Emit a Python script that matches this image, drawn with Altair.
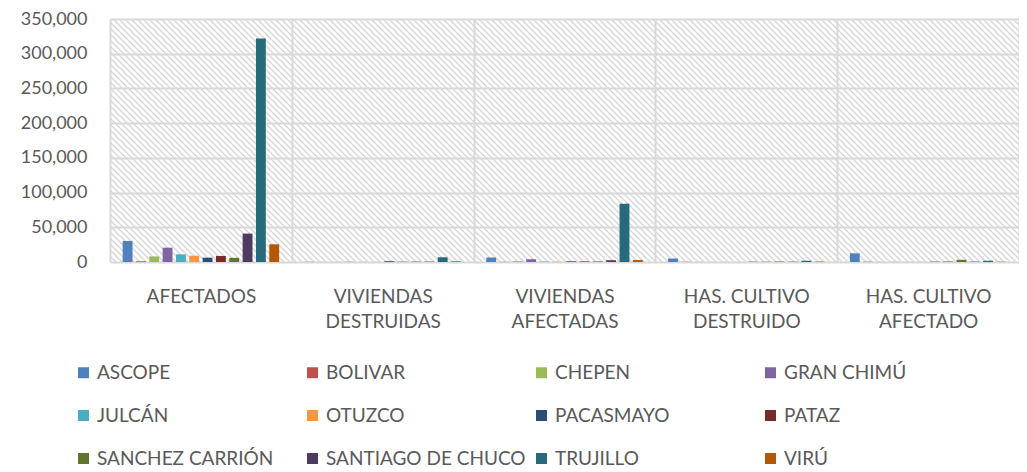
import altair as alt
import pandas as pd

provinces = ["ASCOPE", "BOLIVAR", "CHEPEN", "GRAN CHIMÚ", "JULCÁN", "OTUZCO",
             "PACASMAYO", "PATAZ", "SANCHEZ CARRIÓN", "SANTIAGO DE CHUCO",
             "TRUJILLO", "VIRÚ"]
colors = ["#4F81BD", "#C0504D", "#9BBB59", "#8064A2", "#4BACC6", "#F79646",
          "#2C4D75", "#772C2A", "#5F7530", "#4D3B62", "#276A7C", "#B65708"]

categories = ["AFECTADOS", "VIVIENDAS DESTRUIDAS", "VIVIENDAS AFECTADAS",
              "HAS. CULTIVO DESTRUIDO", "HAS. CULTIVO AFECTADO"]

afectados = [30300, 1000, 8000, 20600, 11000, 9100, 6200, 8700, 6000, 40900, 322000, 25500]
viviendas_destruidas = [300, 100, 200, 300, 200, 200, 1200, 400, 600, 500, 6800, 1000]
viviendas_afectadas = [6500, 300, 1200, 4000, 600, 500, 1000, 800, 800, 2600, 84000, 2800]
has_cultivo_destruido = [5000, 300, 200, 100, 100, 200, 400, 300, 700, 400, 1800, 600]
has_cultivo_afectado = [12500, 400, 300, 200, 200, 300, 500, 600, 3200, 500, 1800, 400]

y_ticks = [0, 50000, 100000, 150000, 200000, 250000, 300000, 350000]

series = [afectados, viviendas_destruidas, viviendas_afectadas,
          has_cultivo_destruido, has_cultivo_afectado]
rows = []
for cat, vals in zip(categories, series):
    for p, v in zip(provinces, vals):
        rows.append({"categoria": cat, "provincia": p, "valor": v})
df = pd.DataFrame(rows)

W, H = 909, 243
TEXT = "#595959"
GRID = "#d9d9d9"
FONT = "Lato"

# diagonal hatch background as a striped linear gradient
s = W * (W + H) / (W * W + H * H)
x2 = s
y2 = 1 - s * H / W
N = round((W + H) / 6)
stops = []
for i in range(N):
    stops.append("{offset:%.5f,color:'#d4d4d4'}" % (i / N))
    stops.append("{offset:%.5f,color:'#ffffff'}" % ((i + 0.3) / N))
    stops.append("{offset:%.5f,color:'#ffffff'}" % ((i + 0.7) / N))
stops.append("{offset:1,color:'#d4d4d4'}")
grad_expr = "{gradient:'linear',x1:0,y1:1,x2:%.5f,y2:%.5f,stops:[%s]}" % (x2, y2, ",".join(stops))

label_expr = ("lastindexof(datum.label, ' ') > 0 ? "
              "[substring(datum.label, 0, lastindexof(datum.label, ' ')), "
              "substring(datum.label, lastindexof(datum.label, ' ') + 1)] : datum.label")

chart = alt.Chart(df).mark_bar().encode(
    x=alt.X("categoria:N", sort=categories,
            scale=alt.Scale(paddingInner=0, paddingOuter=0),
            axis=alt.Axis(title=None, labelExpr=label_expr, tickBand="extent",
                          grid=True, gridColor=GRID, gridWidth=2,
                          ticks=False, domain=False, labelAngle=0,
                          labelFont=FONT, labelFontSize=19, labelColor=TEXT,
                          labelPadding=25, labelLineHeight=25)),
    xOffset=alt.XOffset("provincia:N", sort=provinces,
                        scale=alt.Scale(paddingInner=0.26, paddingOuter=0.95)),
    y=alt.Y("valor:Q", scale=alt.Scale(domain=[0, 350000], nice=False),
            axis=alt.Axis(title=None, values=y_ticks, format=",.0f",
                          grid=True, gridColor=GRID, gridWidth=2,
                          ticks=False, domain=False,
                          labelFont=FONT, labelFontSize=18, labelColor=TEXT,
                          labelPadding=23)),
    color=alt.Color("provincia:N", sort=provinces,
                    scale=alt.Scale(domain=provinces, range=colors),
                    legend=alt.Legend(title=None, orient="none", legendX=-36, legendY=344,
                                      direction="horizontal", columns=4, gridAlign="all",
                                      symbolType="square", symbolSize=121,
                                      symbolStrokeWidth=0, symbolOpacity=1,
                                      labelFont=FONT, labelFontSize=19, labelColor=TEXT,
                                      labelOffset=4, labelLimit=400,
                                      columnPadding=6, rowPadding=23)),
).properties(
    width=W, height=H,
    autosize=alt.AutoSizeParams(type="none"),
    padding={"left": 102, "top": 11, "right": 0, "bottom": 210},
).configure_view(
    fill={"expr": grad_expr}, stroke=None
)

chart.save("out.html", embed_options={"renderer": "svg", "actions": False})
